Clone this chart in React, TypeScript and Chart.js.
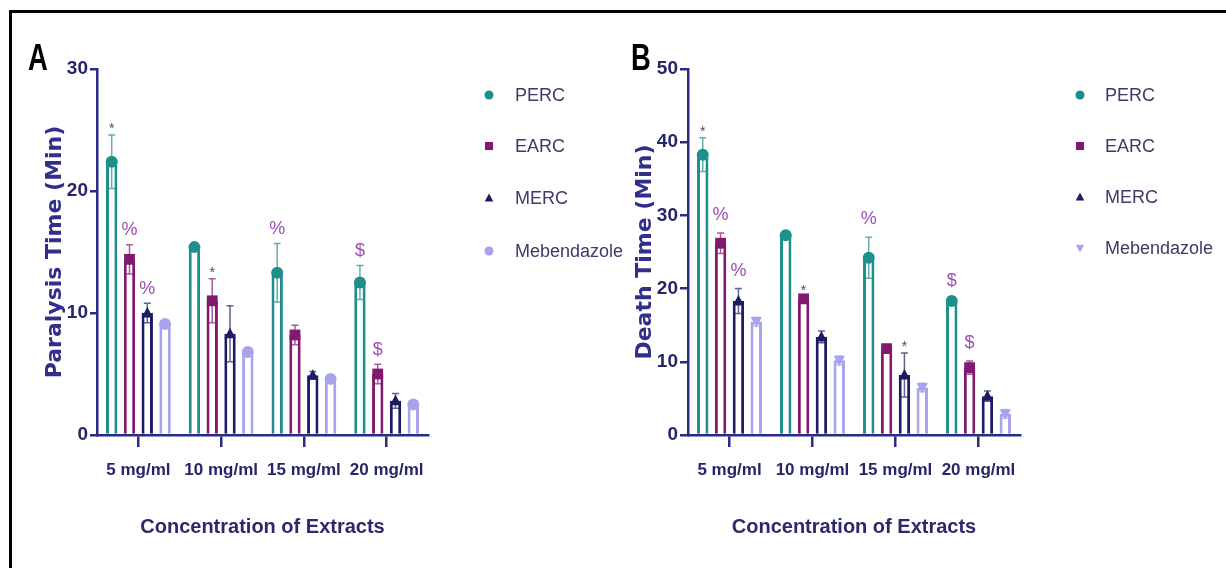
import { useEffect, useRef } from "react";
import Chart from "chart.js/auto";

const CATEGORIES = ["5 mg/ml", "10 mg/ml", "15 mg/ml", "20 mg/ml"];
const SERIES = ["PERC", "EARC", "MERC", "Mebendazole"];
const COLORS = ["#1f8f8c", "#80196f", "#1c1c64", "#a7a3ec"];

// panel A: paralysis time (min), mean and SD per concentration
const PARALYSIS_TICKS = [0, 10, 20, 30];
const PARALYSIS_PERC = [22.4, 15.4, 13.3, 12.5];
const PARALYSIS_EARC = [14.4, 11.0, 8.2, 5.0];
const PARALYSIS_MERC = [10.0, 8.3, 4.9, 2.8];
const PARALYSIS_MEB = [9.1, 6.8, 4.6, 2.5];
const PARALYSIS_PERC_SD = [2.2, 0.2, 2.4, 1.4];
const PARALYSIS_EARC_SD = [1.2, 1.8, 0.8, 0.8];
const PARALYSIS_MERC_SD = [0.8, 2.3, 0.3, 0.6];
const PARALYSIS_MEB_SD = [0.2, 0.2, 0.2, 0.2];
const PARALYSIS_MARKS_PERC = ["*", "", "%", "$"];
const PARALYSIS_MARKS_EARC = ["%", "*", "", "$"];
const PARALYSIS_MARKS_MERC = ["%", "", "", ""];
const PARALYSIS_MARKS_MEB = ["", "", "", ""];

// panel B: death time (min)
const DEATH_TICKS = [0, 10, 20, 30, 40, 50];
const DEATH_PERC = [38.3, 27.3, 24.2, 18.3];
const DEATH_EARC = [26.2, 18.6, 11.8, 9.2];
const DEATH_MERC = [18.3, 13.4, 8.2, 5.3];
const DEATH_MEB = [15.5, 10.2, 6.5, 2.9];
const DEATH_PERC_SD = [2.3, 0.2, 2.8, 0.3];
const DEATH_EARC_SD = [1.4, 0.3, 0.2, 0.9];
const DEATH_MERC_SD = [1.7, 0.8, 3.0, 0.7];
const DEATH_MEB_SD = [0.6, 0.6, 0.6, 0.6];
const DEATH_MARKS_PERC = ["*", "", "%", "$"];
const DEATH_MARKS_EARC = ["%", "*", "", "$"];
const DEATH_MARKS_MERC = ["%", "", "*", ""];
const DEATH_MARKS_MEB = ["", "", "", ""];

type Marker = "circle" | "rect" | "triangle" | "down";

interface Panel {
	letter: string;
	yTitle: string;
	ticks: number[];
	values: number[][];
	sd: number[][];
	marks: string[][];
	markers: Marker[];
	left: number;
	width: number;
	yWidth: number;
	yTitlePad: number;
	tickLength: number;
	padRight: number;
	legendX: number;
	legendTextX: number;
	legendY: number[];
	markGap: number;
	letterX: number;
}

const SANS = "'Liberation Sans', Arial, sans-serif";
const AXIS = "#2b2b86";
const TEXT = "#25256a";
const TOP = 13;
const HEIGHT = 555;

const PANELS: Panel[] = [
	{
		letter: "A",
		yTitle: "Paralysis Time (Min)",
		ticks: PARALYSIS_TICKS,
		values: [PARALYSIS_PERC, PARALYSIS_EARC, PARALYSIS_MERC, PARALYSIS_MEB],
		sd: [PARALYSIS_PERC_SD, PARALYSIS_EARC_SD, PARALYSIS_MERC_SD, PARALYSIS_MEB_SD],
		marks: [PARALYSIS_MARKS_PERC, PARALYSIS_MARKS_EARC, PARALYSIS_MARKS_MERC, PARALYSIS_MARKS_MEB],
		markers: ["circle", "rect", "triangle", "circle"],
		left: 12,
		width: 640,
		yWidth: 85,
		yTitlePad: 30,
		tickLength: 7,
		padRight: 224,
		legendX: 477,
		legendTextX: 503,
		legendY: [82, 133, 185, 238],
		markGap: 9.5,
		letterX: 28,
	},
	{
		letter: "B",
		yTitle: "Death Time (Min)",
		ticks: DEATH_TICKS,
		values: [DEATH_PERC, DEATH_EARC, DEATH_MERC, DEATH_MEB],
		sd: [DEATH_PERC_SD, DEATH_EARC_SD, DEATH_MERC_SD, DEATH_MEB_SD],
		marks: [DEATH_MARKS_PERC, DEATH_MARKS_EARC, DEATH_MARKS_MERC, DEATH_MARKS_MEB],
		markers: ["circle", "rect", "triangle", "down"],
		left: 605,
		width: 621,
		yWidth: 83,
		yTitlePad: 27,
		tickLength: 8,
		padRight: 206,
		legendX: 475,
		legendTextX: 500,
		legendY: [82, 133, 184, 235],
		markGap: 13,
		letterX: 631,
	},
];

function drawMarker(ctx: CanvasRenderingContext2D, kind: Marker, x: number, y: number, r: number) {
	ctx.beginPath();
	if (kind === "circle") {
		ctx.arc(x, y, r, 0, Math.PI * 2);
	} else if (kind === "rect") {
		const h = r * 0.9;
		ctx.rect(x - h, y - h, h * 2, h * 2);
	} else {
		const d = kind === "triangle" ? 1 : -1;
		const w = r * 0.95;
		ctx.moveTo(x, y - d * r);
		ctx.lineTo(x + w, y + d * r * 0.75);
		ctx.lineTo(x - w, y + d * r * 0.75);
		ctx.closePath();
	}
	ctx.fill();
}

function overlay(p: Panel) {
	return {
		id: "overlay",
		afterDatasetsDraw(chart: Chart) {
			const { ctx } = chart;
			const y = chart.scales.y;
			ctx.save();
			p.values.forEach((vals, di) => {
				const color = COLORS[di];
				const meta = chart.getDatasetMeta(di);
				meta.data.forEach((bar, i) => {
					const x = (bar as unknown as { x: number }).x;
					const v = vals[i];
					const hi = y.getPixelForValue(v + p.sd[di][i]);
					const lo = y.getPixelForValue(v - p.sd[di][i]);

					ctx.globalAlpha = 0.7;
					ctx.strokeStyle = color;
					ctx.lineWidth = 1.5;
					ctx.beginPath();
					ctx.moveTo(x, lo);
					ctx.lineTo(x, hi);
					ctx.moveTo(x - 3.5, hi);
					ctx.lineTo(x + 3.5, hi);
					ctx.moveTo(x - 3.5, lo);
					ctx.lineTo(x + 3.5, lo);
					ctx.stroke();
					ctx.globalAlpha = 1;

					ctx.fillStyle = color;
					drawMarker(ctx, p.markers[di], x, y.getPixelForValue(v), 6);

					const mark = p.marks[di][i];
					if (mark) {
						ctx.textAlign = "center";
						ctx.textBaseline = "alphabetic";
						if (mark === "*") {
							ctx.font = `14px ${SANS}`;
							ctx.fillStyle = "#5b3b72";
							ctx.fillText(mark, x, hi - 2);
						} else {
							ctx.font = `18px ${SANS}`;
							ctx.fillStyle = "#9c4fb0";
							ctx.fillText(mark, x, hi - p.markGap);
						}
					}
				});
			});

			ctx.font = `18px ${SANS}`;
			ctx.textAlign = "left";
			ctx.textBaseline = "middle";
			SERIES.forEach((name, di) => {
				const ly = p.legendY[di];
				ctx.fillStyle = COLORS[di];
				drawMarker(ctx, p.markers[di], p.legendX, ly, 4.5);
				ctx.fillStyle = "#3b3b68";
				ctx.fillText(name, p.legendTextX, ly + 1);
			});
			ctx.restore();
		},
	};
}

function PanelChart({ panel }: { panel: Panel }) {
	const canvasRef = useRef<HTMLCanvasElement | null>(null);

	useEffect(() => {
		if (!canvasRef.current) return;
		const ticks = panel.ticks;
		const chart = new Chart(canvasRef.current, {
			type: "bar",
			data: {
				labels: CATEGORIES,
				datasets: SERIES.map((name, di) => ({
					label: name,
					data: panel.values[di],
					backgroundColor: "#ffffff",
					borderColor: COLORS[di],
					borderWidth: 3,
					categoryPercentage: 0.86,
					barPercentage: 0.64,
				})),
			},
			options: {
				responsive: false,
				animation: false,
				layout: { padding: { top: 56, right: panel.padRight, bottom: 13, left: 0 } },
				plugins: {
					legend: { display: false },
					tooltip: { enabled: false },
				},
				scales: {
					x: {
						afterFit: (s) => {
							s.height = 120;
						},
						grid: {
							offset: false,
							drawOnChartArea: false,
							tickLength: 12,
							color: AXIS,
							lineWidth: 2.5,
						},
						border: { color: AXIS, width: 2.5 },
						ticks: {
							padding: 13,
							color: TEXT,
							autoSkip: false,
							maxRotation: 0,
							font: { family: SANS, size: 17, weight: "bold" },
						},
						title: {
							display: true,
							text: "Concentration of Extracts",
							color: "#2b2b6b",
							font: { family: SANS, size: 20, weight: "bold" },
							padding: { top: 0, bottom: 16 },
						},
					},
					y: {
						min: ticks[0],
						max: ticks[ticks.length - 1],
						afterFit: (s) => {
							s.width = panel.yWidth;
						},
						grid: {
							drawOnChartArea: false,
							tickLength: panel.tickLength,
							color: AXIS,
							lineWidth: 2.5,
						},
						border: { color: AXIS, width: 2.5 },
						ticks: {
							stepSize: ticks[1] - ticks[0],
							padding: 2,
							color: TEXT,
							font: { family: SANS, size: 19, weight: "bold" },
						},
						title: {
							display: true,
							text: panel.yTitle,
							color: "#30308c",
							font: { family: "'DejaVu Sans', sans-serif", size: 22, weight: "bold" },
							padding: { top: panel.yTitlePad, bottom: 0 },
						},
					},
				},
			},
			plugins: [overlay(panel)],
		});
		return () => chart.destroy();
	}, [panel]);

	return (
		<>
			<canvas
				ref={canvasRef}
				width={panel.width}
				height={HEIGHT}
				style={{ position: "absolute", left: panel.left, top: TOP, width: panel.width, height: HEIGHT }}
			/>
			<div
				style={{
					position: "absolute",
					left: panel.letterX,
					top: 39,
					font: `bold 37px/37px ${SANS}`,
					color: "#000",
					transform: "scaleX(0.74)",
					transformOrigin: "left top",
				}}
			>
				{panel.letter}
			</div>
		</>
	);
}

export default function App() {
	return (
		<div
			style={{
				position: "absolute",
				left: 0,
				top: 0,
				width: 1226,
				height: 568,
				background: "#fff",
				overflow: "hidden",
			}}
		>
			<div
				style={{
					position: "absolute",
					left: 9,
					top: 10,
					width: 1230,
					height: 570,
					borderTop: "3px solid #000",
					borderLeft: "3px solid #000",
				}}
			/>
			{PANELS.map((p) => (
				<PanelChart key={p.letter} panel={p} />
			))}
		</div>
	);
}
